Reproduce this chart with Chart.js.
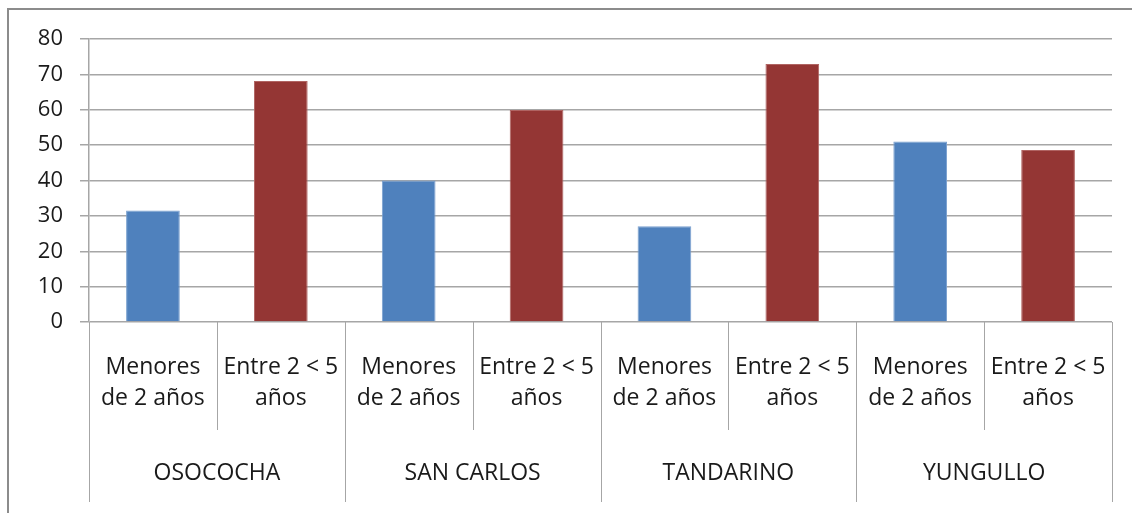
<html>
  <head><meta charset="utf-8"></head>
  <body style="margin:0;background:#fff">
    <script src="https://cdn.jsdelivr.net/npm/chart.js@4/dist/chart.umd.min.js"></script>
    <div style="width:1132px;height:513px"><canvas id="myChart"></canvas></div>

    <script>
      // data
      const groups = ['OSOCOCHA', 'SAN CARLOS', 'TANDARINO', 'YUNGULLO'];
      const ageLabels = [['Menores', 'de 2 años'], ['Entre 2 < 5', 'años']];
      const seriesNames = ['Menores de 2 años', 'Entre 2 < 5 años'];
      const menores = [31.5, 40, 27.1, 51];
      const entre = [68.1, 59.9, 72.9, 48.6];
      const yTicks = [0, 10, 20, 30, 40, 50, 60, 70, 80];

      const FONT = "'Open Sans', sans-serif";
      const GRID = '#a6a6a6';

      // 8 slots on the x axis: 2 age groups per place
      const labels = groups.flatMap(() => ageLabels);
      const menoresData = groups.flatMap((g, i) => [menores[i], null]);
      const entreData = groups.flatMap((g, i) => [null, entre[i]]);

      // frame + category separators
      const framePlugin = {
        id: 'frame',
        beforeDraw(chart) {
          const ctx = chart.ctx;
          ctx.save();
          ctx.strokeStyle = '#8c8c8c';
          ctx.lineWidth = 2;
          ctx.beginPath();
          ctx.moveTo(8, chart.height);
          ctx.lineTo(8, 9);
          ctx.lineTo(chart.width, 9);
          ctx.stroke();
          ctx.restore();
        },
        afterDraw(chart) {
          const ctx = chart.ctx;
          const xs = chart.scales.x;
          const x2 = chart.scales.x2;
          const w = xs.getPixelForValue(1) - xs.getPixelForValue(0);
          const y0 = chart.scales.y.getPixelForValue(0);
          ctx.save();
          ctx.strokeStyle = GRID;
          ctx.lineWidth = 1;
          for (let i = 0; i <= labels.length; i++) {
            const px = Math.round(xs.getPixelForValue(0) - w / 2 + i * w) + 0.5;
            const yEnd = i % 2 === 0 ? x2.bottom - 11 : xs.bottom;
            ctx.beginPath();
            ctx.moveTo(px, y0);
            ctx.lineTo(px, yEnd);
            ctx.stroke();
          }
          ctx.restore();
        }
      };

      const ctx = document.getElementById('myChart').getContext('2d');
      const myChart = new Chart(ctx, {
        type: 'bar',
        data: {
          labels: labels,
          datasets: [
            {
              label: seriesNames[0],
              data: menoresData,
              backgroundColor: '#4f81bd',
              borderColor: '#7aa0cf',
              borderWidth: 1,
              skipNull: true,
              barPercentage: 0.42,
              categoryPercentage: 1
            },
            {
              label: seriesNames[1],
              data: entreData,
              backgroundColor: '#943634',
              borderColor: '#b06462',
              borderWidth: 1,
              skipNull: true,
              barPercentage: 0.42,
              categoryPercentage: 1
            }
          ]
        },
        options: {
          responsive: true,
          maintainAspectRatio: false,
          animation: false,
          layout: { padding: { left: 0, top: 39, right: 20, bottom: 0 } },
          plugins: {
            legend: { display: false },
            tooltip: { enabled: false }
          },
          scales: {
            y: {
              min: 0,
              max: 80,
              afterBuildTicks: s => { s.ticks = yTicks.map(v => ({ value: v })); },
              afterFit: s => { s.width = 89; },
              grid: { color: GRID, lineWidth: 1.5, tickLength: 9 },
              border: { display: true, color: GRID, width: 1.5 },
              ticks: {
                padding: 17,
                color: '#1a1a1a',
                font: { family: FONT, size: 22 }
              }
            },
            x: {
              weight: 1,
              offset: true,
              afterFit: s => { s.height = 108; },
              grid: { display: false },
              border: { display: false },
              ticks: {
                padding: 22,
                maxRotation: 0,
                autoSkip: false,
                color: '#1a1a1a',
                font: { family: FONT, size: 23, lineHeight: 1.35 }
              }
            },
            x2: {
              type: 'category',
              labels: groups,
              position: 'bottom',
              weight: 2,
              offset: true,
              afterFit: s => { s.height = 83; },
              grid: { display: false },
              border: { display: false },
              ticks: {
                padding: 20,
                maxRotation: 0,
                autoSkip: false,
                color: '#1a1a1a',
                font: { family: FONT, size: 23, lineHeight: 1.35 }
              }
            }
          }
        },
        plugins: [framePlugin]
      });
    </script>
  </body>
</html>
